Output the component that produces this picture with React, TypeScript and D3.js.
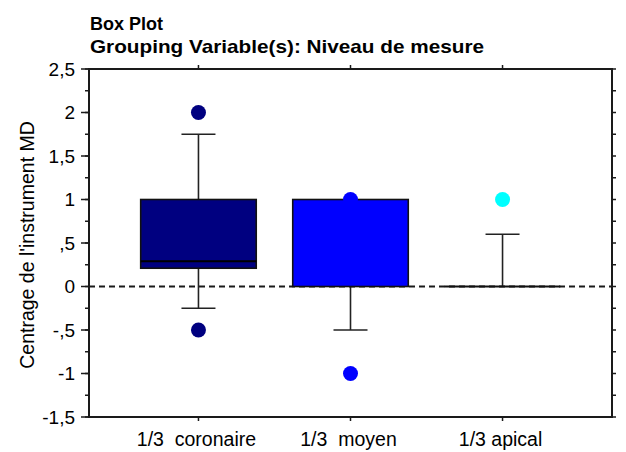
import React from "react";
import * as d3 from "d3";

const categories = ["1/3  coronaire", "1/3  moyen", "1/3 apical"];
const q1Values = [0.21, 0, 0];
const medianValues = [0.29, 1, 0];
const q3Values = [1, 1, 0];
const whiskerLow = [-0.25, -0.5, 0];
const whiskerHigh = [1.75, 1, 0.6];
const outlierValues = [[2, -0.5], [1, -1], [1]];
const boxColors = ["#000080", "#0000FF", "#00FFFF"];
const yMajorTicks = [2.5, 2, 1.5, 1, 0.5, 0, -0.5, -1, -1.5];
const yTickLabels = ["2,5", "2", "1,5", "1", ",5", "0", "-,5", "-1", "-1,5"];
const yMinorTicks = d3.range(-1.5, 2.5001, 0.25);

const W = 626;
const H = 452;
const left = 89;
const right = 612;
const top = 69;
const bottom = 417;
const FONT = "'Liberation Sans', Arial, sans-serif";

export default function App() {
  const y = d3.scaleLinear().domain([-1.5, 2.5]).range([bottom, top]);
  const x = d3.scalePoint<string>().domain(categories).range([left, right]).padding(0.72);
  const boxW = x.step() * 0.76;
  const capW = 34;
  const axisColor = "#1a1a1a";

  return (
    <svg width={W} height={H} style={{ position: "absolute", left: 0, top: 0, background: "#fff" }}>
      <text x={90} y={30} fontFamily={FONT} fontWeight="bold" fontSize={18.5} fill="#000" textLength={73} lengthAdjust="spacingAndGlyphs">Box Plot</text>
      <text x={90} y={53} fontFamily={FONT} fontWeight="bold" fontSize={19} fill="#000" textLength={394} lengthAdjust="spacingAndGlyphs">Grouping Variable(s): Niveau de mesure</text>

      {/* zero dashed line */}
      <line x1={left} x2={right} y1={y(0)} y2={y(0)} stroke="#1a1a1a" strokeWidth={1.8} strokeDasharray="6,4" />

      {categories.map((c, i) => {
        const cx = x(c)!;
        const col = boxColors[i];
        return (
          <g key={c}>
            {whiskerHigh[i] > q3Values[i] && (
              <g>
                <line x1={cx} x2={cx} y1={y(q3Values[i])} y2={y(whiskerHigh[i])} stroke="#222" strokeWidth={1.6} />
                <line x1={cx - capW / 2} x2={cx + capW / 2} y1={y(whiskerHigh[i])} y2={y(whiskerHigh[i])} stroke="#222" strokeWidth={1.6} />
              </g>
            )}
            {whiskerLow[i] < q1Values[i] && (
              <g>
                <line x1={cx} x2={cx} y1={y(q1Values[i])} y2={y(whiskerLow[i])} stroke="#222" strokeWidth={1.6} />
                <line x1={cx - capW / 2} x2={cx + capW / 2} y1={y(whiskerLow[i])} y2={y(whiskerLow[i])} stroke="#222" strokeWidth={1.6} />
              </g>
            )}
            {q3Values[i] > q1Values[i] ? (
              <rect x={cx - boxW / 2} y={y(q3Values[i])} width={boxW} height={y(q1Values[i]) - y(q3Values[i])} fill={col} stroke="#111" strokeWidth={1.6} />
            ) : (
              <line x1={cx - boxW / 2} x2={cx + boxW / 2} y1={y(q1Values[i])} y2={y(q1Values[i])} stroke="#111" strokeWidth={1.8} />
            )}
            {medianValues[i] > q1Values[i] && medianValues[i] < q3Values[i] && (
              <line x1={cx - boxW / 2} x2={cx + boxW / 2} y1={y(medianValues[i])} y2={y(medianValues[i])} stroke="#000" strokeWidth={2.2} />
            )}
            {outlierValues[i].map((v, j) => (
              <circle key={j} cx={cx} cy={y(v)} r={7.5} fill={col} />
            ))}
          </g>
        );
      })}

      {/* frame */}
      <line x1={left} x2={left} y1={top} y2={bottom} stroke={axisColor} strokeWidth={2} />
      <line x1={right} x2={right} y1={top} y2={bottom} stroke={axisColor} strokeWidth={2} />
      <line x1={left - 1} x2={right + 1} y1={top} y2={top} stroke={axisColor} strokeWidth={2} />
      <line x1={left - 1} x2={right + 1} y1={bottom} y2={bottom} stroke={axisColor} strokeWidth={2} />

      {yMinorTicks.map((v) => (
        <line key={"lm" + v} x1={left - 4} x2={left} y1={y(v)} y2={y(v)} stroke={axisColor} strokeWidth={1.5} />
      ))}
      {yMajorTicks.map((v) => (
        <line key={"lM" + v} x1={left - 8} x2={left} y1={y(v)} y2={y(v)} stroke={axisColor} strokeWidth={1.5} />
      ))}
      {yMajorTicks.map((v, i) => (
        <text key={"lt" + v} x={75} y={y(v)} dy="0.36em" textAnchor="end" fontFamily={FONT} fontSize={19} fill="#000">{yTickLabels[i]}</text>
      ))}
      {yMinorTicks.map((v) => (
        <line key={"rm" + v} x1={right} x2={right + 4} y1={y(v)} y2={y(v)} stroke={axisColor} strokeWidth={1.5} />
      ))}
      {categories.map((c) => (
        <g key={"t" + c}>
          <line x1={x(c)!} x2={x(c)!} y1={top} y2={top - 4} stroke={axisColor} strokeWidth={1.5} />
          <line x1={x(c)!} x2={x(c)!} y1={bottom} y2={bottom + 4} stroke={axisColor} strokeWidth={1.5} />
          <text x={x(c)! - 2} y={446} textAnchor="middle" fontFamily={FONT} fontSize={19.5} fill="#000" style={{ whiteSpace: "pre" }}>{c}</text>
        </g>
      ))}

      <text transform={`translate(34,245) rotate(-90)`} textAnchor="middle" fontFamily={FONT} fontSize={19.5} fill="#000">Centrage de l'instrument MD</text>
    </svg>
  );
}
